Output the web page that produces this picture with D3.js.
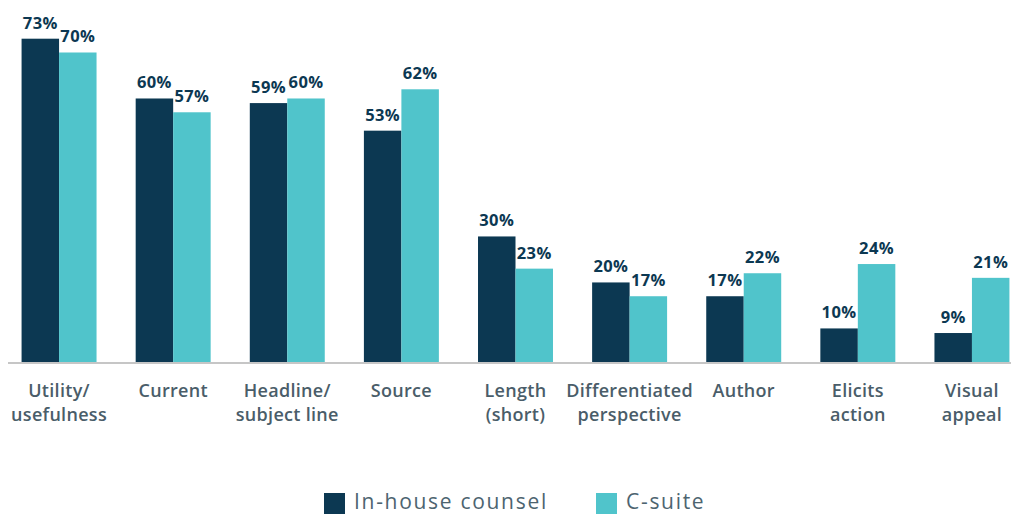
<!DOCTYPE html>
<html>
<head>
<meta charset="utf-8">
<script src="https://cdn.jsdelivr.net/npm/d3@7"></script>
<style>
  body { margin: 0; background: #fff; }
  svg { display: block; font-family: "Open Sans", sans-serif; }
</style>
</head>
<body>
<div id="chart"></div>
<script>
// Chart data
const categories = [
  ['Utility/', 'usefulness'],
  ['Current'],
  ['Headline/', 'subject line'],
  ['Source'],
  ['Length', '(short)'],
  ['Differentiated', 'perspective'],
  ['Author'],
  ['Elicits', 'action'],
  ['Visual', 'appeal']
];
const seriesNames = ['In-house counsel', 'C-suite'];
const inHouse = [73, 60, 59, 53, 30, 20, 17, 10, 9];
const cSuite = [70, 57, 60, 62, 23, 17, 22, 24, 21];
const colors = ['#0c3852', '#50c4cb'];

const width = 1011, height = 515;
const baseline = 362;

const svg = d3.select('#chart')
  .append('svg')
  .attr('width', width)
  .attr('height', height);

// Scales
const x0 = d3.scaleBand()
  .domain(d3.range(categories.length))
  .range([2, 1029])
  .paddingInner(0.343)
  .paddingOuter(0.1715);

const x1 = d3.scaleBand()
  .domain([0, 1])
  .range([0, x0.bandwidth()]);

const y = d3.scaleLinear()
  .domain([2.7, 73])
  .range([baseline, 38.7]);

const rows = categories.map((c, i) => ({ i, values: [inHouse[i], cSuite[i]] }));

// Bars
const groups = svg.append('g')
  .selectAll('g')
  .data(rows)
  .enter().append('g')
  .attr('transform', d => `translate(${x0(d.i)},0)`);

groups.selectAll('rect')
  .data(d => d.values.map((v, s) => ({ v, s })))
  .enter().append('rect')
  .attr('x', d => x1(d.s))
  .attr('width', x1.bandwidth())
  .attr('y', d => y(d.v))
  .attr('height', d => baseline - y(d.v))
  .attr('fill', d => colors[d.s]);

// Value labels
groups.selectAll('text')
  .data(d => d.values.map((v, s) => ({ v, s })))
  .enter().append('text')
  .attr('x', d => x1(d.s) + x1.bandwidth() / 2)
  .attr('y', d => y(d.v) - 10)
  .attr('text-anchor', 'middle')
  .attr('font-size', 16.5)
  .attr('font-weight', 700)
  .attr('letter-spacing', 0.4)
  .attr('fill', '#0c3852')
  .text(d => d.v + '%');

// Axis line
svg.append('line')
  .attr('x1', 8)
  .attr('x2', width)
  .attr('y1', baseline + 1)
  .attr('y2', baseline + 1)
  .attr('stroke', '#c6c6c6')
  .attr('stroke-width', 2);

// Category labels
const catLabels = svg.append('g')
  .selectAll('text')
  .data(categories)
  .enter().append('text')
  .attr('x', (d, i) => x0(i) + x0.bandwidth() / 2)
  .attr('y', 397)
  .attr('text-anchor', 'middle')
  .attr('font-size', 18)
  .attr('font-weight', 600)
  .attr('letter-spacing', 0.3)
  .attr('fill', '#4a5d69');

catLabels.selectAll('tspan')
  .data(d => d)
  .enter().append('tspan')
  .attr('x', function () { return d3.select(this.parentNode).attr('x'); })
  .attr('dy', (d, j) => j === 0 ? 0 : 24)
  .text(d => d);

// Legend
const legendItems = [
  { name: seriesNames[0], color: colors[0], x: 324 },
  { name: seriesNames[1], color: colors[1], x: 596 }
];
const legend = svg.append('g')
  .selectAll('g')
  .data(legendItems)
  .enter().append('g')
  .attr('transform', d => `translate(${d.x},493)`);

legend.append('rect')
  .attr('width', 21)
  .attr('height', 21)
  .attr('fill', d => d.color);

legend.append('text')
  .attr('x', 30)
  .attr('y', 16)
  .attr('font-size', 21)
  .attr('letter-spacing', 1.7)
  .attr('fill', '#4d6470')
  .text(d => d.name);
</script>
</body>
</html>
